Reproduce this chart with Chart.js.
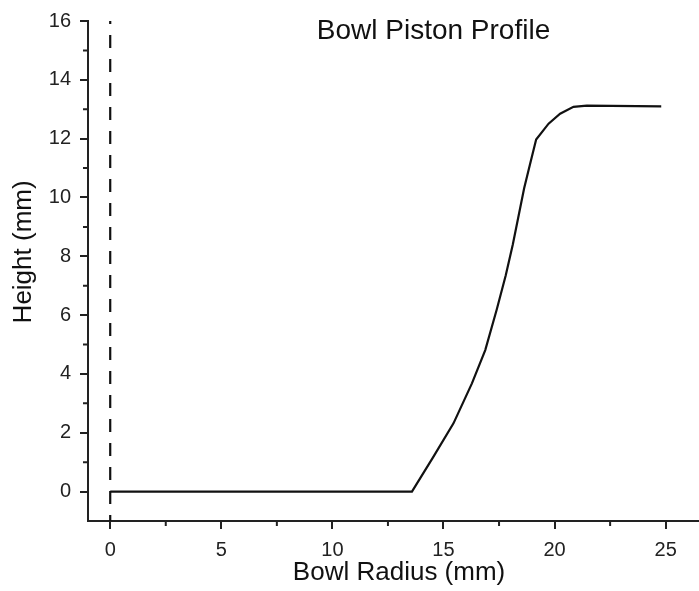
<!DOCTYPE html>
<html>
<head>
<meta charset="utf-8">
<script src="https://cdn.jsdelivr.net/npm/chart.js@4/dist/chart.umd.min.js"></script>
<style>
  html, body { margin: 0; padding: 0; background: #fff; }
  #wrap { width: 699px; height: 591px; }
</style>
</head>
<body>
<div id="wrap"><canvas id="profileChart"></canvas></div>
<script>
// Bowl profile (radius mm, height mm)
const radius = [0, 13.58, 14.55, 15.45, 16.28, 16.88, 17.4, 17.8, 18.12, 18.63, 18.9, 19.17, 19.73, 20.25, 20.85, 21.45, 24.8];
const height = [0, 0, 1.19, 2.32, 3.68, 4.81, 6.2, 7.35, 8.4, 10.31, 11.15, 11.97, 12.51, 12.85, 13.08, 13.12, 13.1];

// dashed centre line at r = 0
const axisLineX = [0, 0];
const axisLineY = [-1, 16];

const xMinorTicks = [2.5, 7.5, 12.5, 17.5, 22.5];
const yMinorTicks = [1, 3, 5, 7, 9, 11, 13, 15];

const chartTitle = 'Bowl Piston Profile';
const xTitle = 'Bowl Radius (mm)';
const yTitle = 'Height (mm)';
const fontFamily = '"Liberation Sans", Arial, sans-serif';

// minor ticks, the in-plot title and both axis titles
const extrasPlugin = {
    id: 'extras',
    afterDraw(chart) {
        const ctx = chart.ctx;
        const xs = chart.scales.x, ys = chart.scales.y;
        const area = chart.chartArea;
        ctx.save();
        ctx.strokeStyle = '#222';
        ctx.lineWidth = 2;
        ctx.beginPath();
        xMinorTicks.forEach(v => {
            const px = xs.getPixelForValue(v);
            ctx.moveTo(px, area.bottom);
            ctx.lineTo(px, area.bottom + 5);
        });
        yMinorTicks.forEach(v => {
            const py = ys.getPixelForValue(v);
            ctx.moveTo(area.left, py);
            ctx.lineTo(area.left - 5, py);
        });
        ctx.stroke();

        ctx.fillStyle = '#111';
        ctx.textAlign = 'center';
        ctx.textBaseline = 'middle';
        ctx.font = '28px ' + fontFamily;
        ctx.fillText(chartTitle, xs.getPixelForValue(14.55), ys.getPixelForValue(15.66));

        ctx.font = '26px ' + fontFamily;
        ctx.fillText(xTitle, xs.getPixelForValue(13.0), area.bottom + 52);

        // y title sits a little above the axis middle in the original
        ctx.translate(ys.left + 24, ys.getPixelForValue(8.15));
        ctx.rotate(-Math.PI / 2);
        ctx.fillText(yTitle, 0, 0);
        ctx.restore();
    }
};

const points = radius.map((r, i) => ({ x: r, y: height[i] }));
const dashPoints = axisLineX.map((r, i) => ({ x: r, y: axisLineY[i] }));

new Chart(document.getElementById('profileChart').getContext('2d'), {
    type: 'scatter',
    data: {
        datasets: [
            {
                label: 'Profile',
                data: points,
                showLine: true,
                borderColor: '#111',
                borderWidth: 2.2,
                pointRadius: 0,
                tension: 0
            },
            {
                label: 'Axis',
                data: dashPoints,
                showLine: true,
                borderColor: '#111',
                borderWidth: 2.2,
                borderDash: [13, 11],
                borderDashOffset: 7,
                pointRadius: 0
            }
        ]
    },
    options: {
        responsive: true,
        maintainAspectRatio: false,
        animation: false,
        layout: { padding: { top: 20, right: 0, left: 0, bottom: 0 } },
        plugins: {
            legend: { display: false },
            tooltip: { enabled: false }
        },
        scales: {
            x: {
                type: 'linear',
                min: -1,
                max: 26.5,
                afterFit: scale => { scale.height = 70; },
                border: { color: '#222', width: 2 },
                grid: { display: true, drawOnChartArea: false, color: '#222', lineWidth: 2, tickLength: 8 },
                ticks: {
                    stepSize: 5,
                    includeBounds: false,
                    color: '#222',
                    padding: 9,
                    maxRotation: 0,
                    font: { family: fontFamily, size: 20 }
                },
                title: { display: false }
            },
            y: {
                type: 'linear',
                min: -1,
                max: 16,
                afterFit: scale => { scale.width = 88; },
                border: { color: '#222', width: 2 },
                grid: { display: true, drawOnChartArea: false, color: '#222', lineWidth: 2, tickLength: 8 },
                ticks: {
                    stepSize: 2,
                    includeBounds: false,
                    color: '#222',
                    padding: 9,
                    font: { family: fontFamily, size: 20 }
                },
                title: { display: false }
            }
        }
    },
    plugins: [extrasPlugin]
});
</script>
</body>
</html>
